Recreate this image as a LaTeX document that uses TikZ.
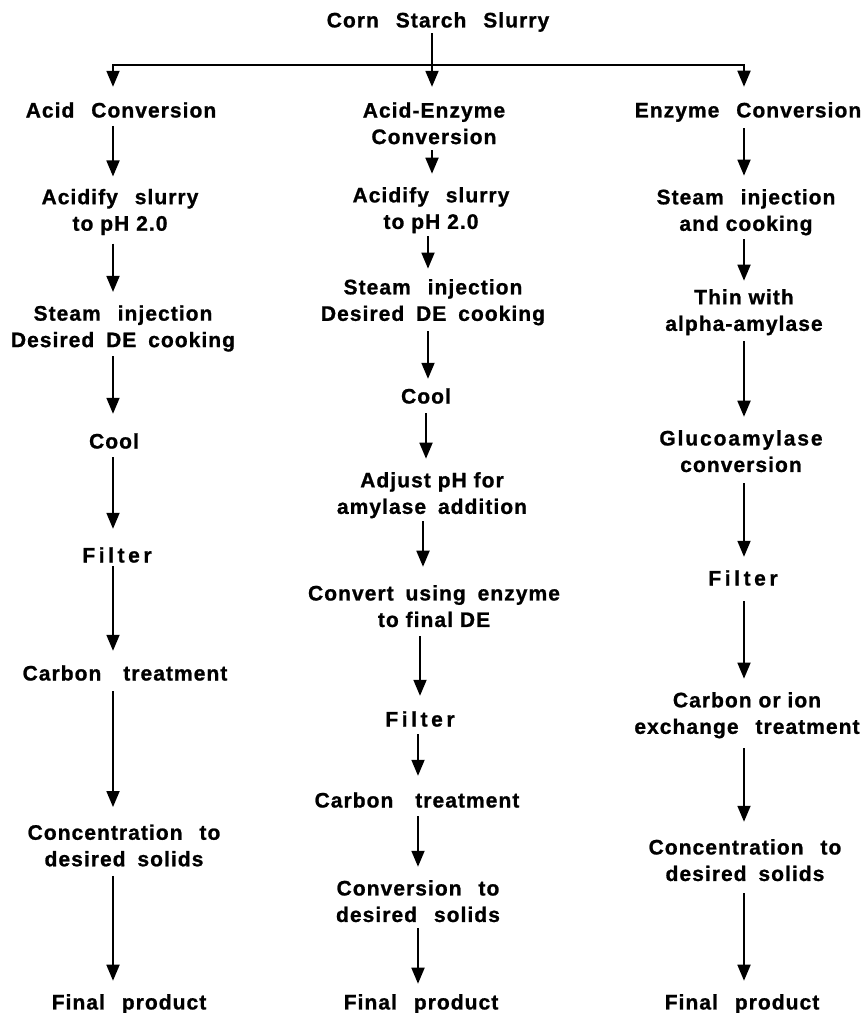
\documentclass[tikz,border=0pt]{standalone}
\usepackage{fontspec}
\newfontfamily\lblfont{Liberation Sans Bold}[LetterSpace=5, FakeBold=1]
\usetikzlibrary{arrows.meta}

% extra word gaps used in the labels
\newcommand\gapW{\hspace{10pt}}
\newcommand\gapM{\hspace{5pt}}
% widely tracked labels
\newcommand\tracked[2]{{\addfontfeatures{LetterSpace=#1}#2}}

% vertical flow arrow: from node #1 down to node #2 along column #3,
% leaving #4 pt below the first label and stopping #5 pt above the second
\newcommand\flow[5]{\draw[link,shorten <=#4pt,shorten >=#5pt] (#1.south -| #3) -- (#2.north -| #3);}

\begin{document}
\begin{tikzpicture}[x=1pt,y=-1pt,
  lbl/.style={font=\lblfont\fontsize{21}{26.5}\selectfont, align=center, inner sep=0pt},
  link/.style={line width=1.8pt, -{Triangle[length=16pt,width=13pt]}},
  bus/.style={line width=1.8pt, line cap=rect}]
\fill[white] (0,0) rectangle (868,1013);
\useasboundingbox (0,0) rectangle (868,1013);

% column axes
\coordinate (cl) at (113,0);
\coordinate (cr) at (744,0);
\coordinate (ct) at (432,0);
\coordinate (m1) at (428,0);
\coordinate (m2) at (426,0);
\coordinate (m3) at (423,0);
\coordinate (m4) at (420,0);
\coordinate (m5) at (418,0);

% source
\node[lbl] (top) at (438,22) {Corn \gapW Starch \gapW Slurry};

% acid conversion
\node[lbl] (la) at (121,110)   {Acid \gapW Conversion};
\node[lbl] (lb) at (120,212)   {Acidify \gapW slurry\\to pH 2.0};
\node[lbl] (lc) at (123,328.5) {Steam \gapW injection\\Desired \gapM DE \gapM cooking};
\node[lbl] (ld) at (114,441)   {Cool};
\node[lbl] (le) at (117,555)   {\tracked{17}{Filter}};
\node[lbl] (lf) at (125,673)   {Carbon \gapW\gapM treatment};
\node[lbl] (lg) at (124,845.5) {Concentration \gapW to\\desired \gapM solids};
\node[lbl] (lh) at (129,1004)  {Final \gapW product};

% acid-enzyme conversion
\node[lbl] (ma) at (434,123.3) {Acid-Enzyme\\Conversion};
\node[lbl] (mb) at (431,210.2) {Acidify \gapW slurry\\to pH 2.0};
\node[lbl] (mc) at (433,302.2) {Steam \gapW injection\\Desired \gapM DE \gapM cooking};
\node[lbl] (md) at (426,396)   {Cool};
\node[lbl] (me) at (432,495.2) {Adjust pH for\\amylase \gapM addition};
\node[lbl] (mf) at (434,606.2) {Convert \gapM using \gapM enzyme\\to final DE};
\node[lbl] (mg) at (420,719)   {\tracked{17}{Filter}};
\node[lbl] (mh) at (417,800)   {Carbon \gapW\gapM treatment};
\node[lbl] (mi) at (418,901.2) {Conversion \gapW to\\desired \gapW solids};
\node[lbl] (mj) at (421,1004)  {Final \gapW product};

% enzyme conversion
\node[lbl] (ra) at (748,112)   {Enzyme \gapW Conversion};
\node[lbl] (rb) at (746,212.2) {Steam \gapW injection\\and cooking};
\node[lbl] (rc) at (744,312.2) {Thin with\\alpha-amylase};
\node[lbl] (rd) at (741,451.2) {\tracked{9}{Glucoamylase}\\conversion};
\node[lbl] (re) at (743,578)   {\tracked{17}{Filter}};
\node[lbl] (rf) at (747,715.2) {Carbon or ion\\exchange \gapW treatment};
\node[lbl] (rg) at (745,860.2) {Concentration \gapW to\\desired \gapM solids};
\node[lbl] (rh) at (742,1004)  {Final \gapW product};

% split of the slurry into the three routes
\coordinate (bl) at (113,65);
\coordinate (br) at (744,65);
\draw[bus] (bl) -- (br);
\draw[link,shorten >=15.3pt] (bl) -- (la.north -| bl);
\draw[link,shorten >=15.3pt] (br) -- (ra.north -| br);
\draw[link,shorten <=1.4pt,shorten >=15.3pt] (top.south -| ct) -- (ma.north -| ct);

% acid conversion steps
\flow{la}{lb}{cl}{8}{12.3}
\flow{lb}{lc}{cl}{8.5}{13.3}
\flow{lc}{ld}{cl}{4.5}{19.3}
\flow{ld}{le}{cl}{8.3}{18.3}
\flow{le}{lf}{cl}{3.3}{14.3}
\flow{lf}{lg}{cl}{10.3}{17.3}
\flow{lg}{lh}{cl}{9.3}{13.3}

% acid-enzyme conversion steps
\flow{ma}{mb}{ct}{5.8}{13.3}
\flow{mb}{mc}{m1}{2.9}{10.3}
\flow{mc}{md}{m1}{5.9}{9.3}
\flow{md}{me}{m2}{9.3}{13.3}
\flow{me}{mf}{m3}{2.9}{18.3}
\flow{mf}{mg}{m4}{8.8}{15.3}
\flow{mg}{mh}{m5}{7.3}{16.3}
\flow{mh}{mi}{m5}{8.3}{13.3}
\flow{mi}{mj}{m5}{5.8}{10.3}

% enzyme conversion steps
\flow{ra}{rb}{cr}{6.4}{13.3}
\flow{rb}{rc}{cr}{3.9}{8.3}
\flow{rc}{rd}{cr}{5.9}{13.3}
\flow{rd}{re}{cr}{10.8}{13.3}
\flow{re}{rf}{cr}{15.3}{13.3}
\flow{rf}{rg}{cr}{9.9}{17.3}
\flow{rg}{rh}{cr}{11.8}{13.3}
\end{tikzpicture}
\end{document}
